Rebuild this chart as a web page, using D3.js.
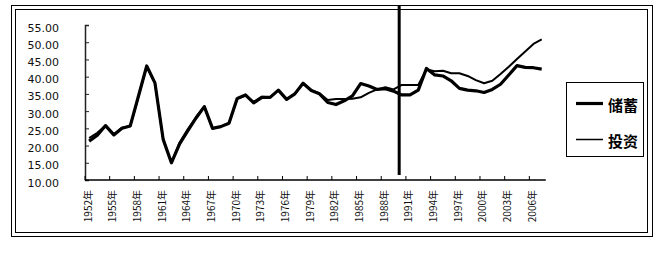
<!DOCTYPE html>
<html><head><meta charset="utf-8">
<script src="https://cdn.jsdelivr.net/npm/d3@7"></script>
<style>html,body{margin:0;padding:0;background:#fff;}svg{display:block;}</style>
</head><body>
<script>
const years = d3.range(1952, 2008);
const tickYears = [1952,1955,1958,1961,1964,1967,1970,1973,1976,1979,1982,1985,1988,1991,1994,1997,2000,2003,2006];
const yTicks = [10,15,20,25,30,35,40,45,50,55];
const savings = [21.3,23.0,25.8,23.1,25.0,25.7,34.4,43.1,38.2,21.8,15.0,20.5,24.3,28.0,31.3,25.0,25.5,26.5,33.7,34.7,
  32.4,34.0,34.0,36.1,33.4,35.0,38.1,36.0,35.0,32.5,31.9,33.0,34.4,38.0,37.3,36.3,36.5,35.8,
  34.7,34.7,36.1,42.4,40.5,40.2,38.8,36.6,36.1,35.9,35.4,36.3,37.8,40.5,43.2,42.7,42.6,42.2];
const investment = [22.2,23.7,25.8,23.3,25.2,25.7,34.2,43.1,38.2,21.8,15.0,20.9,24.8,28.3,31.3,25.0,25.5,26.5,33.5,34.5,
  32.7,34.2,34.0,36.1,33.4,35.0,38.1,36.1,35.2,33.2,33.5,33.5,33.6,34.0,35.3,36.3,36.9,36.3,
  37.6,37.6,37.6,42.1,41.6,41.7,41.0,41.0,40.2,39.0,38.1,38.8,40.8,42.9,45.1,47.3,49.5,50.8];
const seriesNames = ["储蓄","投资"];
const breakYear = 1990;

const W = 665, H = 266;
const svg = d3.select("body").append("svg").attr("width", W).attr("height", H);

// frames
svg.append("rect").attr("x",11.5).attr("y",5.5).attr("width",641).attr("height",231)
  .attr("fill","none").attr("stroke","#000").attr("stroke-width",1);
svg.append("rect").attr("x",15.5).attr("y",9.5).attr("width",632).attr("height",223)
  .attr("fill","none").attr("stroke","#000").attr("stroke-width",1);

const x = d3.scaleBand().domain(years).range([85, 545.8]).padding(0);
const bw = x.bandwidth();
const y = d3.scaleLinear().domain([10,55]).range([180,25]);

// y axis
const yAxis = svg.append("g").attr("transform","translate(85,0)")
  .call(d3.axisRight(y).tickValues(yTicks).tickSize(4).tickFormat(""));
yAxis.select(".domain").attr("stroke","#222").attr("stroke-width",1.5);
yAxis.selectAll(".tick line").attr("stroke","#222");
svg.append("g").selectAll("text").data(yTicks).join("text")
  .attr("x",59).attr("y",d=>y(d)+3)
  .attr("text-anchor","end").attr("dominant-baseline","central")
  .attr("font-family","DejaVu Sans").attr("font-size",11).attr("fill","#111")
  .text(d=>d3.format(".2f")(d));

// x axis
svg.append("line").attr("x1",85).attr("x2",545.8).attr("y1",180).attr("y2",180)
  .attr("stroke","#000").attr("stroke-width",1.5);
svg.append("g").selectAll("line").data(tickYears).join("line")
  .attr("x1",d=>x(d)).attr("x2",d=>x(d)).attr("y1",180).attr("y2",176)
  .attr("stroke","#000").attr("stroke-width",1);
svg.append("g").selectAll("text").data(tickYears).join("text")
  .attr("transform",d=>`translate(${x(d)+2},190) rotate(-90)`)
  .attr("text-anchor","end").attr("dominant-baseline","central")
  .attr("font-family","Noto Sans CJK SC").attr("font-size",10).attr("fill","#111")
  .text(d=>d+"年");

const line = d3.line().x((d,i)=>x(years[i])+bw/2).y(d=>y(d));
svg.append("path").datum(investment).attr("d",line).attr("fill","none")
  .attr("stroke","#000").attr("stroke-width",2).attr("stroke-linejoin","round");
svg.append("path").datum(savings).attr("d",line).attr("fill","none")
  .attr("stroke","#000").attr("stroke-width",3.2).attr("stroke-linejoin","round");

// break line
const bx = x(breakYear)+1.5;
svg.append("line").attr("x1",bx).attr("x2",bx).attr("y1",6).attr("y2",175)
  .attr("stroke","#000").attr("stroke-width",3);

// legend
svg.append("rect").attr("x",566.5).attr("y",82.5).attr("width",77).attr("height",74)
  .attr("fill","#fff").attr("stroke","#000").attr("stroke-width",1);
const leg = [{name:seriesNames[0],w:3.2,y:103.5},{name:seriesNames[1],w:1.5,y:139.5}];
leg.forEach(l=>{
  svg.append("line").attr("x1",576).attr("x2",603).attr("y1",l.y).attr("y2",l.y)
    .attr("stroke","#000").attr("stroke-width",l.w);
  svg.append("text").attr("x",608).attr("y",l.y+1).attr("dominant-baseline","central")
    .attr("font-family","Noto Sans CJK SC").attr("font-weight","bold").attr("font-size",15)
    .attr("fill","#000").text(l.name);
});
</script>
</body></html>
